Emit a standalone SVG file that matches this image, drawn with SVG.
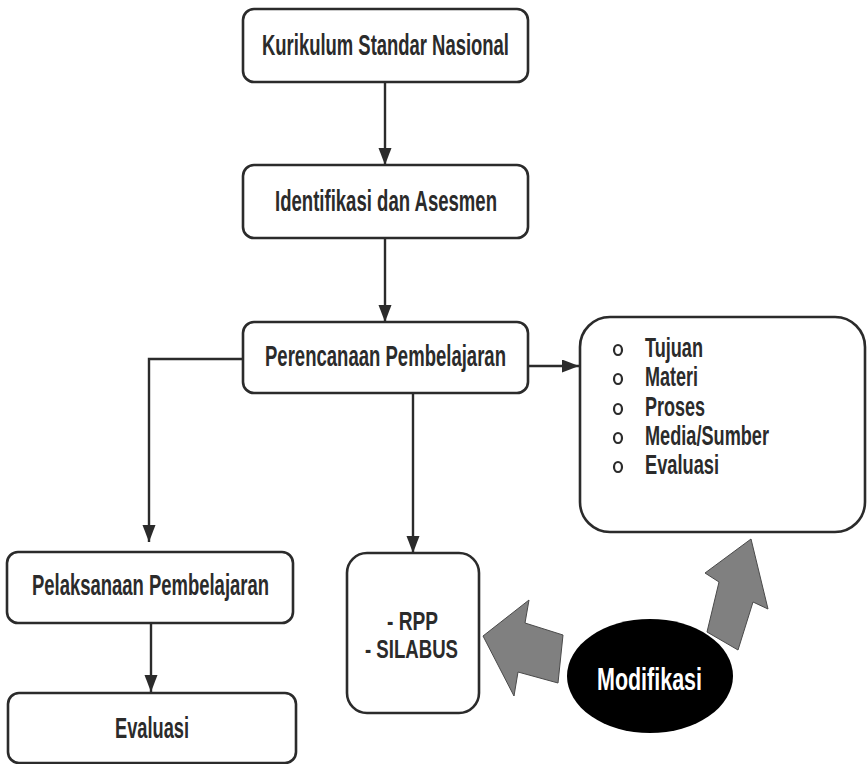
<svg xmlns="http://www.w3.org/2000/svg" width="867" height="764" viewBox="0 0 867 764">
  <defs>
    <marker id="arrow" markerUnits="userSpaceOnUse" markerWidth="18" markerHeight="14" refX="17" refY="6.5" orient="auto">
      <path d="M0,0 L17,6.5 L0,13 z" fill="#2b2b2b"/>
    </marker>
    <style>
      .box { fill: #ffffff; stroke: #2b2b2b; stroke-width: 2.6; }
      .lbl { font-family: "Liberation Sans", Arial, sans-serif; font-weight: bold; fill: #2b2b2b; text-anchor: middle; }
      .item { font-family: "Liberation Sans", Arial, sans-serif; font-weight: bold; fill: #2b2b2b; font-size: 28px; }
      .bul { fill: none; stroke: #2b2b2b; stroke-width: 2.2; }
      .conn { fill: none; stroke: #2b2b2b; stroke-width: 2.4; marker-end: url(#arrow); }
      .big { fill: #808080; stroke: #4a4a4a; stroke-width: 1; }
    </style>
  </defs>
  <rect width="867" height="764" fill="#ffffff"/>

  <g id="connectors">
    <path class="conn" d="M385,82 V165"/>
    <path class="conn" d="M385,238 V322"/>
    <path class="conn" d="M243,359 H149 V542"/>
    <path class="conn" d="M413,393 V553"/>
    <path class="conn" d="M528,366 H579"/>
    <path class="conn" d="M151,623 V692"/>
    <polygon class="big" points="483,636 529,600 525,623 563,635 558,683 518,672 514,696"/>
    <polygon class="big" points="751,539 768,609 753,602 738,650 707,632 719,582 705,573"/>
  </g>

  <g id="kurikulum">
    <rect class="box" x="243" y="9" width="285" height="73" rx="11"/>
    <text class="lbl" x="385.5" y="55" font-size="30" textLength="247" lengthAdjust="spacingAndGlyphs">Kurikulum Standar Nasional</text>
  </g>

  <g id="identifikasi">
    <rect class="box" x="243" y="165" width="285" height="73" rx="11"/>
    <text class="lbl" x="386" y="211" font-size="30" textLength="222" lengthAdjust="spacingAndGlyphs">Identifikasi dan Asesmen</text>
  </g>

  <g id="perencanaan">
    <rect class="box" x="243" y="322" width="285" height="71" rx="11"/>
    <text class="lbl" x="385.5" y="366" font-size="30" textLength="241" lengthAdjust="spacingAndGlyphs">Perencanaan Pembelajaran</text>
  </g>

  <g id="komponen">
    <rect class="box" x="580" y="317" width="285" height="215" rx="30"/>
    <ellipse class="bul" cx="618" cy="350" rx="4" ry="5"/>
    <ellipse class="bul" cx="618" cy="379" rx="4" ry="5"/>
    <ellipse class="bul" cx="618" cy="409" rx="4" ry="5"/>
    <ellipse class="bul" cx="618" cy="438" rx="4" ry="5"/>
    <ellipse class="bul" cx="618" cy="467" rx="4" ry="5"/>
    <text class="item" x="645" y="357" textLength="58" lengthAdjust="spacingAndGlyphs">Tujuan</text>
    <text class="item" x="645" y="386" textLength="53" lengthAdjust="spacingAndGlyphs">Materi</text>
    <text class="item" x="645" y="416" textLength="60" lengthAdjust="spacingAndGlyphs">Proses</text>
    <text class="item" x="645" y="445" textLength="124" lengthAdjust="spacingAndGlyphs">Media/Sumber</text>
    <text class="item" x="645" y="474" textLength="74" lengthAdjust="spacingAndGlyphs">Evaluasi</text>
  </g>

  <g id="pelaksanaan">
    <rect class="box" x="7" y="552" width="286" height="71" rx="11"/>
    <text class="lbl" x="150.5" y="595" font-size="29" textLength="237" lengthAdjust="spacingAndGlyphs">Pelaksanaan Pembelajaran</text>
  </g>

  <g id="evaluasi">
    <rect class="box" x="8" y="693" width="288" height="70" rx="11"/>
    <text class="lbl" x="152" y="738" font-size="29" textLength="74" lengthAdjust="spacingAndGlyphs">Evaluasi</text>
  </g>

  <g id="rpp">
    <rect class="box" x="347" y="553" width="132" height="160" rx="20"/>
    <text class="lbl" x="412.5" y="630" font-size="26" textLength="51" lengthAdjust="spacingAndGlyphs">- RPP</text>
    <text class="lbl" x="411.5" y="658" font-size="26" textLength="93" lengthAdjust="spacingAndGlyphs">- SILABUS</text>
  </g>

  <g id="modifikasi">
    <ellipse cx="650" cy="676" rx="83" ry="57" fill="#000000"/>
    <text x="649.5" y="690" font-family="Liberation Sans, Arial, sans-serif" font-weight="bold" font-size="31" fill="#ffffff" text-anchor="middle" textLength="105" lengthAdjust="spacingAndGlyphs">Modifikasi</text>
  </g>
</svg>
